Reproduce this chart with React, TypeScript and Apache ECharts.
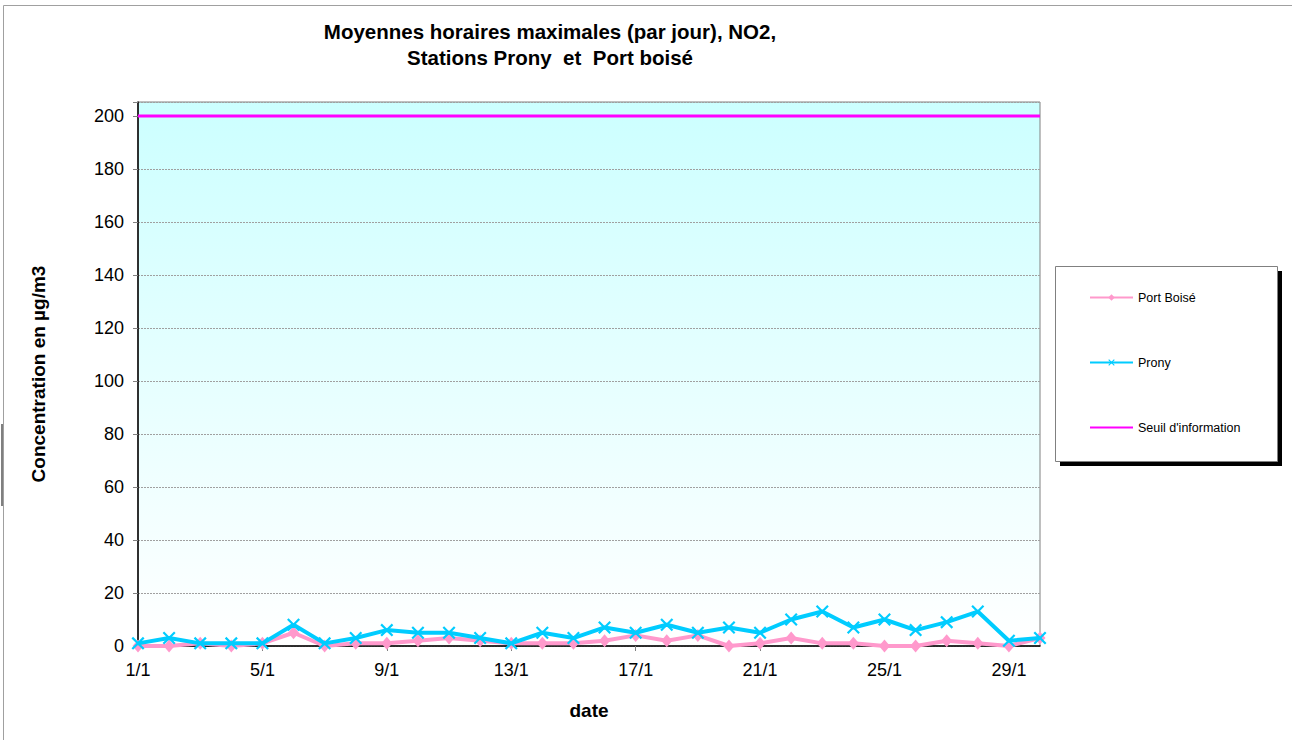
import React, { useEffect, useRef } from "react";
import * as echarts from "echarts";

const days: string[] = [
  "1/1", "2/1", "3/1", "4/1", "5/1", "6/1", "7/1", "8/1", "9/1", "10/1",
  "11/1", "12/1", "13/1", "14/1", "15/1", "16/1", "17/1", "18/1", "19/1", "20/1",
  "21/1", "22/1", "23/1", "24/1", "25/1", "26/1", "27/1", "28/1", "29/1", "30/1",
];
const portBoise: number[] = [
  0, 0, 1, 0, 1, 5, 0, 1, 1, 2, 3, 2, 1, 1, 1, 2, 4, 2, 4, 0, 1, 3, 1, 1, 0, 0, 2, 1, 0, 3,
];
const prony: number[] = [
  1, 3, 1, 1, 1, 8, 1, 3, 6, 5, 5, 3, 1, 5, 3, 7, 5, 8, 5, 7, 5, 10, 13, 7, 10, 6, 9, 13, 2, 3,
];
const seuil: number[] = days.map(() => 200);
const seriesNames = ["Port Boisé", "Prony", "Seuil d'information"];
const titleLines = ["Moyennes horaires maximales (par jour), NO2,", "Stations Prony  et  Port boisé"];

const FONT = "'Liberation Sans', Arial, sans-serif";
const X_SYMBOL =
  "path://M0,1.2 L1.2,0 L5,3.8 L8.8,0 L10,1.2 L6.2,5 L10,8.8 L8.8,10 L5,6.2 L1.2,10 L0,8.8 L3.8,5 Z";

export default function App() {
  const ref = useRef<HTMLDivElement>(null);
  useEffect(() => {
    if (!ref.current) return;
    const chart = echarts.init(ref.current, undefined, { renderer: "svg" });
    chart.setOption({
      animation: false,
      backgroundColor: "#ffffff",
      textStyle: { fontFamily: FONT },
      grid: {
        left: 138,
        right: 252,
        top: 102,
        bottom: 94,
        show: true,
        borderColor: "#808080",
        borderWidth: 1,
        backgroundColor: new echarts.graphic.LinearGradient(0, 0, 0, 1, [
          { offset: 0, color: "#ccffff" },
          { offset: 1, color: "#ffffff" },
        ]),
      },
      legend: {
        orient: "vertical",
        left: 1089,
        top: 291,
        padding: 0,
        itemGap: 52,
        itemWidth: 43,
        itemHeight: 8,
        data: seriesNames,
        textStyle: { fontFamily: FONT, fontSize: 12.5, color: "#000" },
      },
      xAxis: {
        type: "category",
        data: days,
        boundaryGap: false,
        name: "date",
        nameLocation: "middle",
        nameGap: 55,
        nameTextStyle: { fontFamily: FONT, fontSize: 19, fontWeight: "bold", color: "#000" },
        axisLine: { lineStyle: { color: "#000", width: 1.5 } },
        axisTick: { interval: 3, length: 5, lineStyle: { color: "#808080" } },
        axisLabel: { interval: 3, margin: 15, fontFamily: FONT, fontSize: 18, color: "#000" },
        splitLine: { show: false },
      },
      yAxis: {
        type: "value",
        min: 0,
        max: 205.3,
        interval: 20,
        name: "Concentration en µg/m3",
        nameLocation: "middle",
        nameGap: 90,
        nameTextStyle: { fontFamily: FONT, fontSize: 19, fontWeight: "bold", color: "#000" },
        axisLine: { show: true, lineStyle: { color: "#000", width: 1.5 } },
        axisTick: { show: true, length: 5, lineStyle: { color: "#808080" } },
        axisLabel: {
          margin: 14,
          fontFamily: FONT,
          fontSize: 18,
          color: "#000",
          formatter: (v: number) => (v % 20 === 0 ? String(v) : ""),
        },
        splitLine: { lineStyle: { color: "#a0a0a0", width: 1, type: [2, 1] } },
      },
      series: [
        {
          name: seriesNames[0],
          type: "line",
          data: portBoise,
          symbol: "diamond",
          symbolSize: [11, 13],
          lineStyle: { color: "#ff99cc", width: 4 },
          itemStyle: { color: "#ff99cc" },
          z: 3,
        },
        {
          name: seriesNames[1],
          type: "line",
          data: prony,
          symbol: X_SYMBOL,
          symbolSize: 13,
          lineStyle: { color: "#00ccff", width: 4 },
          itemStyle: { color: "#00ccff" },
          z: 4,
        },
        {
          name: seriesNames[2],
          type: "line",
          data: seuil,
          symbol: "circle",
          showSymbol: false,
          lineStyle: { color: "#ff00ff", width: 3 },
          itemStyle: { color: "rgba(0,0,0,0)" },
          z: 2,
        },
      ],
      graphic: [
        {
          type: "rect",
          shape: { x: 3.5, y: 5.5, width: 1300, height: 760 },
          style: { fill: "none", stroke: "#a0a0a0", lineWidth: 1 },
          silent: true,
          z: 0,
        },
        {
          type: "line",
          shape: { x1: 2, y1: 424, x2: 2, y2: 506 },
          style: { stroke: "#000", lineWidth: 1 },
          silent: true,
        },
        {
          type: "text",
          x: 550,
          y: 18,
          style: {
            text: titleLines.join("\n"),
            fontFamily: FONT,
            fontSize: 20.5,
            fontWeight: "bold",
            fill: "#000",
            align: "center",
            lineHeight: 26,
          },
        },
        {
          type: "rect",
          shape: { x: 1060, y: 271, width: 222, height: 195 },
          style: { fill: "#000" },
          silent: true,
          z: -1,
        },
        {
          type: "rect",
          shape: { x: 1055.5, y: 266.5, width: 222, height: 195 },
          style: { fill: "#fff", stroke: "#808080", lineWidth: 1 },
          silent: true,
          z: -1,
        },
      ],
    });
    return () => chart.dispose();
  }, []);
  return (
    <div
      ref={ref}
      style={{ position: "absolute", left: 0, top: 0, width: 1292, height: 740 }}
    />
  );
}
